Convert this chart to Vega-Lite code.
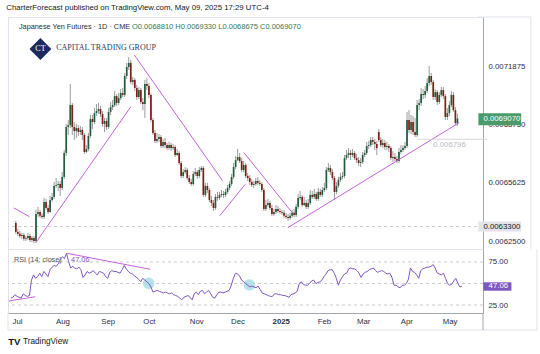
{
"$schema":"https://vega.github.io/schema/vega-lite/v6.json",
"background":"white",
"padding":{"left":6,"top":4,"right":8,"bottom":4},
"title":{"text":"CharterForecast published on TradingView.com, May 09, 2025 17:29 UTC-4","anchor":"start","frame":"bounds","font":"Liberation Sans, sans-serif","fontSize":7.8,"fontWeight":"normal","color":"#131722","offset":4},
"config":{"view":{"stroke":"#e0e3eb"},"text":{"font":"Liberation Sans, sans-serif","fontSize":7.8},"axis":{"labelFont":"Liberation Sans, sans-serif","labelFontSize":7.8,"labelColor":"#2a2e39","ticks":false,"grid":false,"domainColor":"#a3a6af","title":null}},
"spacing":0,
"bounds":"flush",
"datasets":{
"ohlc":[
{"i":0,"o":0.006349,"h":0.00636,"l":0.006291,"c":0.006301},
{"i":1,"o":0.006301,"h":0.006317,"l":0.00628,"c":0.006291},
{"i":2,"o":0.006291,"h":0.006307,"l":0.006269,"c":0.00628},
{"i":3,"o":0.00628,"h":0.006296,"l":0.006264,"c":0.006285},
{"i":4,"o":0.006285,"h":0.006296,"l":0.006253,"c":0.006264},
{"i":5,"o":0.006264,"h":0.00628,"l":0.006253,"c":0.006269},
{"i":6,"o":0.006269,"h":0.006296,"l":0.006258,"c":0.00628},
{"i":7,"o":0.00628,"h":0.006291,"l":0.006247,"c":0.006258},
{"i":8,"o":0.006258,"h":0.00628,"l":0.006247,"c":0.006269},
{"i":9,"o":0.006269,"h":0.00628,"l":0.006242,"c":0.006253},
{"i":10,"o":0.006253,"h":0.006419,"l":0.006242,"c":0.006397},
{"i":11,"o":0.006397,"h":0.006435,"l":0.006381,"c":0.006408},
{"i":12,"o":0.006408,"h":0.006419,"l":0.006376,"c":0.006387},
{"i":13,"o":0.006387,"h":0.006403,"l":0.006371,"c":0.006381},
{"i":14,"o":0.006381,"h":0.006483,"l":0.006371,"c":0.006461},
{"i":15,"o":0.006461,"h":0.006477,"l":0.006419,"c":0.006429},
{"i":16,"o":0.006429,"h":0.006445,"l":0.006397,"c":0.006408},
{"i":17,"o":0.006408,"h":0.006493,"l":0.006403,"c":0.006472},
{"i":18,"o":0.006472,"h":0.006509,"l":0.006461,"c":0.006488},
{"i":19,"o":0.006488,"h":0.006568,"l":0.006477,"c":0.006547},
{"i":20,"o":0.006547,"h":0.006589,"l":0.006536,"c":0.006552},
{"i":21,"o":0.006552,"h":0.006573,"l":0.00652,"c":0.006557},
{"i":22,"o":0.006557,"h":0.006573,"l":0.006493,"c":0.006536},
{"i":23,"o":0.006536,"h":0.006621,"l":0.006525,"c":0.006595},
{"i":24,"o":0.006595,"h":0.006739,"l":0.006584,"c":0.006723},
{"i":25,"o":0.006723,"h":0.006878,"l":0.006707,"c":0.006862},
{"i":26,"o":0.006862,"h":0.006899,"l":0.006819,"c":0.006872},
{"i":27,"o":0.006872,"h":0.007091,"l":0.006856,"c":0.006979},
{"i":28,"o":0.006979,"h":0.00699,"l":0.006819,"c":0.006862},
{"i":29,"o":0.006862,"h":0.006888,"l":0.006792,"c":0.00684},
{"i":30,"o":0.00684,"h":0.006878,"l":0.006803,"c":0.006856},
{"i":31,"o":0.006856,"h":0.006872,"l":0.006814,"c":0.006835},
{"i":32,"o":0.006835,"h":0.006867,"l":0.006819,"c":0.006846},
{"i":33,"o":0.006846,"h":0.006862,"l":0.006792,"c":0.006819},
{"i":34,"o":0.006819,"h":0.00683,"l":0.006717,"c":0.006728},
{"i":35,"o":0.006728,"h":0.006765,"l":0.006723,"c":0.006744},
{"i":36,"o":0.006744,"h":0.00683,"l":0.006733,"c":0.006814},
{"i":37,"o":0.006814,"h":0.006926,"l":0.006803,"c":0.006904},
{"i":38,"o":0.006904,"h":0.006926,"l":0.006851,"c":0.006888},
{"i":39,"o":0.006888,"h":0.006963,"l":0.006878,"c":0.006936},
{"i":40,"o":0.006936,"h":0.006984,"l":0.00692,"c":0.006947},
{"i":41,"o":0.006947,"h":0.00699,"l":0.006931,"c":0.006958},
{"i":42,"o":0.006958,"h":0.006974,"l":0.006915,"c":0.006931},
{"i":43,"o":0.006931,"h":0.006947,"l":0.006862,"c":0.006878},
{"i":44,"o":0.006878,"h":0.00691,"l":0.006835,"c":0.006894},
{"i":45,"o":0.006894,"h":0.00691,"l":0.006846,"c":0.006862},
{"i":46,"o":0.006862,"h":0.006963,"l":0.006851,"c":0.006942},
{"i":47,"o":0.006942,"h":0.006995,"l":0.006926,"c":0.006968},
{"i":48,"o":0.006968,"h":0.007006,"l":0.006952,"c":0.006979},
{"i":49,"o":0.006979,"h":0.007054,"l":0.006968,"c":0.007027},
{"i":50,"o":0.007027,"h":0.007038,"l":0.006974,"c":0.00699},
{"i":51,"o":0.00699,"h":0.007043,"l":0.006979,"c":0.007016},
{"i":52,"o":0.007016,"h":0.007064,"l":0.007006,"c":0.007043},
{"i":53,"o":0.007043,"h":0.00707,"l":0.007022,"c":0.007033},
{"i":54,"o":0.007033,"h":0.00715,"l":0.007022,"c":0.007134},
{"i":55,"o":0.007134,"h":0.007204,"l":0.007118,"c":0.007182},
{"i":56,"o":0.007182,"h":0.007236,"l":0.007166,"c":0.007204},
{"i":57,"o":0.007204,"h":0.00722,"l":0.007091,"c":0.007102},
{"i":58,"o":0.007102,"h":0.007129,"l":0.007086,"c":0.007113},
{"i":59,"o":0.007113,"h":0.007123,"l":0.007054,"c":0.00707},
{"i":60,"o":0.00707,"h":0.007086,"l":0.007006,"c":0.007022},
{"i":61,"o":0.007022,"h":0.007075,"l":0.007011,"c":0.007059},
{"i":62,"o":0.007059,"h":0.00707,"l":0.006984,"c":0.006995},
{"i":63,"o":0.006995,"h":0.007016,"l":0.006952,"c":0.006984},
{"i":64,"o":0.006984,"h":0.007113,"l":0.00691,"c":0.007091},
{"i":65,"o":0.007091,"h":0.007123,"l":0.007059,"c":0.007081},
{"i":66,"o":0.007081,"h":0.007097,"l":0.007016,"c":0.007033},
{"i":67,"o":0.007033,"h":0.007043,"l":0.006888,"c":0.006899},
{"i":68,"o":0.006899,"h":0.00691,"l":0.006819,"c":0.00683},
{"i":69,"o":0.00683,"h":0.006846,"l":0.006776,"c":0.006787},
{"i":70,"o":0.006787,"h":0.00683,"l":0.006776,"c":0.006798},
{"i":71,"o":0.006798,"h":0.006824,"l":0.006782,"c":0.006808},
{"i":72,"o":0.006808,"h":0.006819,"l":0.006749,"c":0.00676},
{"i":73,"o":0.00676,"h":0.006798,"l":0.006749,"c":0.006782},
{"i":74,"o":0.006782,"h":0.006803,"l":0.006749,"c":0.006765},
{"i":75,"o":0.006765,"h":0.006776,"l":0.006739,"c":0.006749},
{"i":76,"o":0.006749,"h":0.006782,"l":0.006739,"c":0.006765},
{"i":77,"o":0.006765,"h":0.006776,"l":0.006733,"c":0.006749},
{"i":78,"o":0.006749,"h":0.006771,"l":0.006739,"c":0.006755},
{"i":79,"o":0.006755,"h":0.006765,"l":0.006701,"c":0.006712},
{"i":80,"o":0.006712,"h":0.006744,"l":0.006707,"c":0.006723},
{"i":81,"o":0.006723,"h":0.006733,"l":0.006659,"c":0.006669},
{"i":82,"o":0.006669,"h":0.00668,"l":0.006589,"c":0.0066},
{"i":83,"o":0.0066,"h":0.006637,"l":0.006589,"c":0.006621},
{"i":84,"o":0.006621,"h":0.006648,"l":0.006611,"c":0.006632},
{"i":85,"o":0.006632,"h":0.006643,"l":0.006579,"c":0.006589},
{"i":86,"o":0.006589,"h":0.006605,"l":0.006557,"c":0.006568},
{"i":87,"o":0.006568,"h":0.006584,"l":0.006547,"c":0.006557},
{"i":88,"o":0.006557,"h":0.006627,"l":0.006547,"c":0.006611},
{"i":89,"o":0.006611,"h":0.006643,"l":0.0066,"c":0.006621},
{"i":90,"o":0.006621,"h":0.006632,"l":0.006584,"c":0.0066},
{"i":91,"o":0.0066,"h":0.006648,"l":0.006589,"c":0.006632},
{"i":92,"o":0.006632,"h":0.006653,"l":0.006621,"c":0.006643},
{"i":93,"o":0.006643,"h":0.006653,"l":0.006488,"c":0.006499},
{"i":94,"o":0.006499,"h":0.006563,"l":0.006488,"c":0.006547},
{"i":95,"o":0.006547,"h":0.006563,"l":0.006509,"c":0.006525},
{"i":96,"o":0.006525,"h":0.006536,"l":0.006461,"c":0.006472},
{"i":97,"o":0.006472,"h":0.006493,"l":0.00644,"c":0.006456},
{"i":98,"o":0.006456,"h":0.006472,"l":0.006413,"c":0.006429},
{"i":99,"o":0.006429,"h":0.006504,"l":0.006419,"c":0.006488},
{"i":100,"o":0.006488,"h":0.006515,"l":0.006467,"c":0.006483},
{"i":101,"o":0.006483,"h":0.006515,"l":0.006472,"c":0.006499},
{"i":102,"o":0.006499,"h":0.006525,"l":0.006488,"c":0.006504},
{"i":103,"o":0.006504,"h":0.00652,"l":0.006483,"c":0.006499},
{"i":104,"o":0.006499,"h":0.006531,"l":0.006488,"c":0.006515},
{"i":105,"o":0.006515,"h":0.006552,"l":0.006504,"c":0.006536},
{"i":106,"o":0.006536,"h":0.006573,"l":0.006525,"c":0.006557},
{"i":107,"o":0.006557,"h":0.006611,"l":0.006547,"c":0.006595},
{"i":108,"o":0.006595,"h":0.006669,"l":0.006584,"c":0.006648},
{"i":109,"o":0.006648,"h":0.006707,"l":0.006637,"c":0.006685},
{"i":110,"o":0.006685,"h":0.006744,"l":0.00668,"c":0.006701},
{"i":111,"o":0.006701,"h":0.006723,"l":0.006669,"c":0.00668},
{"i":112,"o":0.00668,"h":0.006696,"l":0.006621,"c":0.006632},
{"i":113,"o":0.006632,"h":0.00668,"l":0.006621,"c":0.006659},
{"i":114,"o":0.006659,"h":0.006669,"l":0.006589,"c":0.0066},
{"i":115,"o":0.0066,"h":0.006616,"l":0.006573,"c":0.006589},
{"i":116,"o":0.006589,"h":0.006605,"l":0.006552,"c":0.006568},
{"i":117,"o":0.006568,"h":0.006584,"l":0.006541,"c":0.006552},
{"i":118,"o":0.006552,"h":0.006573,"l":0.006536,"c":0.006557},
{"i":119,"o":0.006557,"h":0.006589,"l":0.006547,"c":0.006573},
{"i":120,"o":0.006573,"h":0.006595,"l":0.006552,"c":0.006563},
{"i":121,"o":0.006563,"h":0.006579,"l":0.006547,"c":0.006557},
{"i":122,"o":0.006557,"h":0.006568,"l":0.006515,"c":0.006525},
{"i":123,"o":0.006525,"h":0.006536,"l":0.006413,"c":0.006424},
{"i":124,"o":0.006424,"h":0.006472,"l":0.006413,"c":0.006445},
{"i":125,"o":0.006445,"h":0.006477,"l":0.006435,"c":0.006456},
{"i":126,"o":0.006456,"h":0.006467,"l":0.006419,"c":0.006429},
{"i":127,"o":0.006429,"h":0.006445,"l":0.006387,"c":0.006397},
{"i":128,"o":0.006397,"h":0.006424,"l":0.006387,"c":0.006408},
{"i":129,"o":0.006408,"h":0.006445,"l":0.006397,"c":0.006424},
{"i":130,"o":0.006424,"h":0.00644,"l":0.006403,"c":0.006413},
{"i":131,"o":0.006413,"h":0.006429,"l":0.006397,"c":0.006408},
{"i":132,"o":0.006408,"h":0.006419,"l":0.006392,"c":0.006403},
{"i":133,"o":0.006403,"h":0.006419,"l":0.006376,"c":0.006387},
{"i":134,"o":0.006387,"h":0.006403,"l":0.006371,"c":0.006381},
{"i":135,"o":0.006381,"h":0.006397,"l":0.00636,"c":0.006376},
{"i":136,"o":0.006376,"h":0.006403,"l":0.006365,"c":0.006387},
{"i":137,"o":0.006387,"h":0.006419,"l":0.006376,"c":0.006403},
{"i":138,"o":0.006403,"h":0.006424,"l":0.006381,"c":0.006392},
{"i":139,"o":0.006392,"h":0.006451,"l":0.006381,"c":0.006435},
{"i":140,"o":0.006435,"h":0.006504,"l":0.006424,"c":0.006483},
{"i":141,"o":0.006483,"h":0.00652,"l":0.006472,"c":0.006488},
{"i":142,"o":0.006488,"h":0.006499,"l":0.006435,"c":0.006445},
{"i":143,"o":0.006445,"h":0.006488,"l":0.00644,"c":0.006456},
{"i":144,"o":0.006456,"h":0.006472,"l":0.006424,"c":0.006435},
{"i":145,"o":0.006435,"h":0.006477,"l":0.006424,"c":0.006456},
{"i":146,"o":0.006456,"h":0.006525,"l":0.006445,"c":0.006499},
{"i":147,"o":0.006499,"h":0.00652,"l":0.006477,"c":0.006488},
{"i":148,"o":0.006488,"h":0.006531,"l":0.006477,"c":0.006504},
{"i":149,"o":0.006504,"h":0.006515,"l":0.006467,"c":0.006477},
{"i":150,"o":0.006477,"h":0.006536,"l":0.006467,"c":0.006515},
{"i":151,"o":0.006515,"h":0.006531,"l":0.006488,"c":0.006499},
{"i":152,"o":0.006499,"h":0.006541,"l":0.006488,"c":0.006525},
{"i":153,"o":0.006525,"h":0.006563,"l":0.006515,"c":0.006536},
{"i":154,"o":0.006536,"h":0.006648,"l":0.006525,"c":0.006632},
{"i":155,"o":0.006632,"h":0.006669,"l":0.006621,"c":0.006643},
{"i":156,"o":0.006643,"h":0.006659,"l":0.006605,"c":0.006621},
{"i":157,"o":0.006621,"h":0.006637,"l":0.006579,"c":0.006589},
{"i":158,"o":0.006589,"h":0.0066,"l":0.006472,"c":0.006515},
{"i":159,"o":0.006515,"h":0.006568,"l":0.006504,"c":0.006547},
{"i":160,"o":0.006547,"h":0.006595,"l":0.006536,"c":0.006579},
{"i":161,"o":0.006579,"h":0.006616,"l":0.006568,"c":0.006595},
{"i":162,"o":0.006595,"h":0.006621,"l":0.006584,"c":0.0066},
{"i":163,"o":0.0066,"h":0.006712,"l":0.006589,"c":0.006696},
{"i":164,"o":0.006696,"h":0.006739,"l":0.006685,"c":0.006712},
{"i":165,"o":0.006712,"h":0.006749,"l":0.006696,"c":0.006723},
{"i":166,"o":0.006723,"h":0.006739,"l":0.006685,"c":0.006712},
{"i":167,"o":0.006712,"h":0.006744,"l":0.006701,"c":0.006723},
{"i":168,"o":0.006723,"h":0.006733,"l":0.006685,"c":0.006696},
{"i":169,"o":0.006696,"h":0.006717,"l":0.006669,"c":0.006685},
{"i":170,"o":0.006685,"h":0.006701,"l":0.006653,"c":0.006669},
{"i":171,"o":0.006669,"h":0.006696,"l":0.006648,"c":0.006675},
{"i":172,"o":0.006675,"h":0.006728,"l":0.006664,"c":0.006712},
{"i":173,"o":0.006712,"h":0.006739,"l":0.006701,"c":0.006723},
{"i":174,"o":0.006723,"h":0.006782,"l":0.006712,"c":0.00676},
{"i":175,"o":0.00676,"h":0.006787,"l":0.006744,"c":0.006765},
{"i":176,"o":0.006765,"h":0.006808,"l":0.006755,"c":0.006792},
{"i":177,"o":0.006792,"h":0.006808,"l":0.006765,"c":0.006782},
{"i":178,"o":0.006782,"h":0.006798,"l":0.006739,"c":0.006771},
{"i":179,"o":0.006771,"h":0.006787,"l":0.006712,"c":0.006749},
{"i":180,"o":0.006835,"h":0.006851,"l":0.006782,"c":0.006792},
{"i":181,"o":0.006792,"h":0.006808,"l":0.006755,"c":0.006765},
{"i":182,"o":0.006765,"h":0.006798,"l":0.006749,"c":0.006776},
{"i":183,"o":0.006776,"h":0.006792,"l":0.006739,"c":0.006755},
{"i":184,"o":0.006755,"h":0.006782,"l":0.006739,"c":0.00676},
{"i":185,"o":0.00676,"h":0.006771,"l":0.006728,"c":0.006749},
{"i":186,"o":0.006749,"h":0.00676,"l":0.006685,"c":0.006696},
{"i":187,"o":0.006696,"h":0.006733,"l":0.006675,"c":0.006701},
{"i":188,"o":0.006701,"h":0.006723,"l":0.00668,"c":0.006691},
{"i":189,"o":0.006691,"h":0.006707,"l":0.006669,"c":0.00668},
{"i":190,"o":0.00668,"h":0.006749,"l":0.006669,"c":0.006728},
{"i":191,"o":0.006728,"h":0.006765,"l":0.006717,"c":0.006739},
{"i":192,"o":0.006739,"h":0.006765,"l":0.006728,"c":0.006749},
{"i":193,"o":0.006749,"h":0.006782,"l":0.006739,"c":0.00676},
{"i":194,"o":0.00676,"h":0.006942,"l":0.006749,"c":0.006899},
{"i":195,"o":0.006899,"h":0.006952,"l":0.00683,"c":0.006846},
{"i":196,"o":0.006846,"h":0.006926,"l":0.006824,"c":0.006888},
{"i":197,"o":0.006888,"h":0.00692,"l":0.006819,"c":0.006835},
{"i":198,"o":0.006835,"h":0.00691,"l":0.006808,"c":0.006819},
{"i":199,"o":0.006819,"h":0.007006,"l":0.006808,"c":0.006979},
{"i":200,"o":0.006979,"h":0.007011,"l":0.006952,"c":0.00699},
{"i":201,"o":0.00699,"h":0.00707,"l":0.006974,"c":0.007038},
{"i":202,"o":0.007038,"h":0.007064,"l":0.007011,"c":0.007033},
{"i":203,"o":0.007033,"h":0.007081,"l":0.007016,"c":0.007054},
{"i":204,"o":0.007054,"h":0.007123,"l":0.007043,"c":0.007097},
{"i":205,"o":0.007097,"h":0.007188,"l":0.007081,"c":0.007134},
{"i":206,"o":0.007134,"h":0.00715,"l":0.007086,"c":0.007102},
{"i":207,"o":0.007102,"h":0.007113,"l":0.007006,"c":0.007022},
{"i":208,"o":0.007022,"h":0.007064,"l":0.007006,"c":0.007048},
{"i":209,"o":0.007048,"h":0.007059,"l":0.006979,"c":0.006995},
{"i":210,"o":0.006995,"h":0.007048,"l":0.006984,"c":0.007033},
{"i":211,"o":0.007033,"h":0.007075,"l":0.007022,"c":0.007059},
{"i":212,"o":0.007059,"h":0.007075,"l":0.007011,"c":0.007027},
{"i":213,"o":0.007027,"h":0.007038,"l":0.006899,"c":0.006915},
{"i":214,"o":0.006915,"h":0.006963,"l":0.006899,"c":0.006936},
{"i":215,"o":0.006936,"h":0.007,"l":0.00692,"c":0.006979},
{"i":216,"o":0.006979,"h":0.007054,"l":0.006968,"c":0.007033},
{"i":217,"o":0.007033,"h":0.007048,"l":0.006942,"c":0.006952},
{"i":218,"o":0.006952,"h":0.006968,"l":0.006872,"c":0.006883},
{"i":219,"o":0.006881,"h":0.006933,"l":0.0068675,"c":0.006907}
],
"rsi":[
{"i":0,"r":33},{"i":1,"r":34},{"i":2,"r":37},{"i":3,"r":35},{"i":4,"r":34},{"i":5,"r":33},{"i":6,"r":38},{"i":7,"r":36},{"i":8,"r":35},{"i":9,"r":36},
{"i":10,"r":54},{"i":11,"r":60},{"i":12,"r":56},{"i":13,"r":58},{"i":14,"r":62},{"i":15,"r":58},{"i":16,"r":64},{"i":17,"r":61},{"i":18,"r":58},{"i":19,"r":66},
{"i":20,"r":69},{"i":21,"r":71},{"i":22,"r":70},{"i":23,"r":73},{"i":24,"r":78},{"i":25,"r":81},{"i":26,"r":79},{"i":27,"r":85},{"i":28,"r":76},{"i":29,"r":68},
{"i":30,"r":70},{"i":31,"r":68},{"i":32,"r":67},{"i":33,"r":69},{"i":34,"r":66},{"i":35,"r":57},{"i":36,"r":60},{"i":37,"r":64},{"i":38,"r":62},{"i":39,"r":63},
{"i":40,"r":65},{"i":41,"r":62},{"i":42,"r":60},{"i":43,"r":64},{"i":44,"r":63},{"i":45,"r":62},{"i":46,"r":58},{"i":47,"r":56},{"i":48,"r":63},{"i":49,"r":65},
{"i":50,"r":64},{"i":51,"r":64},{"i":52,"r":63},{"i":53,"r":62},{"i":54,"r":66},{"i":55,"r":71},{"i":56,"r":67},{"i":57,"r":64},{"i":58,"r":62},{"i":59,"r":61},
{"i":60,"r":59},{"i":61,"r":57},{"i":62,"r":55},{"i":63,"r":52},{"i":64,"r":56},{"i":65,"r":54},{"i":66,"r":52},{"i":67,"r":50},{"i":68,"r":46},{"i":69,"r":40},
{"i":70,"r":41},{"i":71,"r":42},{"i":72,"r":41},{"i":73,"r":40},{"i":74,"r":39},{"i":75,"r":40},{"i":76,"r":39},{"i":77,"r":38},{"i":78,"r":39},{"i":79,"r":37},
{"i":80,"r":36},{"i":81,"r":35},{"i":82,"r":33},{"i":83,"r":31},{"i":84,"r":34},{"i":85,"r":35},{"i":86,"r":36},{"i":87,"r":34},{"i":88,"r":31},{"i":89,"r":38},
{"i":90,"r":40},{"i":91,"r":37},{"i":92,"r":41},{"i":93,"r":42},{"i":94,"r":38},{"i":95,"r":40},{"i":96,"r":42},{"i":97,"r":38},{"i":98,"r":34},{"i":99,"r":33},
{"i":100,"r":37},{"i":101,"r":40},{"i":102,"r":40},{"i":103,"r":39},{"i":104,"r":40},{"i":105,"r":41},{"i":106,"r":42},{"i":107,"r":48},{"i":108,"r":56},{"i":109,"r":62},
{"i":110,"r":61},{"i":111,"r":59},{"i":112,"r":54},{"i":113,"r":52},{"i":114,"r":50},{"i":115,"r":48},{"i":116,"r":46},{"i":117,"r":47},{"i":118,"r":46},{"i":119,"r":45},
{"i":120,"r":47},{"i":121,"r":43},{"i":122,"r":39},{"i":123,"r":38},{"i":124,"r":37},{"i":125,"r":36},{"i":126,"r":35},{"i":127,"r":35},{"i":128,"r":38},{"i":129,"r":38},
{"i":130,"r":37},{"i":131,"r":37},{"i":132,"r":36},{"i":133,"r":36},{"i":134,"r":35},{"i":135,"r":34},{"i":136,"r":37},{"i":137,"r":38},{"i":138,"r":39},{"i":139,"r":41},
{"i":140,"r":50},{"i":141,"r":52},{"i":142,"r":49},{"i":143,"r":48},{"i":144,"r":48},{"i":145,"r":50},{"i":146,"r":53},{"i":147,"r":54},{"i":148,"r":50},{"i":149,"r":51},
{"i":150,"r":52},{"i":151,"r":54},{"i":152,"r":58},{"i":153,"r":61},{"i":154,"r":65},{"i":155,"r":66},{"i":156,"r":66},{"i":157,"r":62},{"i":158,"r":56},{"i":159,"r":48},
{"i":160,"r":54},{"i":161,"r":58},{"i":162,"r":61},{"i":163,"r":62},{"i":164,"r":67},{"i":165,"r":68},{"i":166,"r":67},{"i":167,"r":67},{"i":168,"r":65},{"i":169,"r":62},
{"i":170,"r":57},{"i":171,"r":61},{"i":172,"r":63},{"i":173,"r":64},{"i":174,"r":66},{"i":175,"r":67},{"i":176,"r":68},{"i":177,"r":65},{"i":178,"r":63},{"i":179,"r":64},
{"i":180,"r":65},{"i":181,"r":64},{"i":182,"r":62},{"i":183,"r":61},{"i":184,"r":62},{"i":185,"r":57},{"i":186,"r":48},{"i":187,"r":48},{"i":188,"r":46},{"i":189,"r":45},
{"i":190,"r":48},{"i":191,"r":48},{"i":192,"r":50},{"i":193,"r":55},{"i":194,"r":68},{"i":195,"r":64},{"i":196,"r":63},{"i":197,"r":60},{"i":198,"r":56},{"i":199,"r":65},
{"i":200,"r":67},{"i":201,"r":68},{"i":202,"r":69},{"i":203,"r":69},{"i":204,"r":70},{"i":205,"r":72},{"i":206,"r":68},{"i":207,"r":62},{"i":208,"r":61},{"i":209,"r":60},
{"i":210,"r":62},{"i":211,"r":56},{"i":212,"r":50},{"i":213,"r":48},{"i":214,"r":49},{"i":215,"r":53},{"i":216,"r":56},{"i":217,"r":50},{"i":218,"r":46},{"i":219,"r":47.06}
],
"tl":[
{"id":"a","i":10,"p":0.006245},{"id":"a","i":56.9,"p":0.006968},
{"id":"b","i":-1.0,"p":0.006429},{"id":"b","i":6.7,"p":0.006383},
{"id":"c","i":58.8,"p":0.007246},{"id":"c","i":102.5,"p":0.006575},
{"id":"d","i":101.2,"p":0.006388},{"id":"d","i":113.8,"p":0.006556},
{"id":"e","i":113.1,"p":0.006725},{"id":"e","i":137.3,"p":0.006401},
{"id":"f","i":134.9,"p":0.006324},{"id":"f","i":219.9,"p":0.006885}
],
"rtl":[
{"id":"a","i":27.3,"r":85.1},{"id":"a","i":67.7,"r":66.5},
{"id":"b","i":-1.0,"r":29.7},{"id":"b","i":11.9,"r":34.6}
],
"circ":[{"i":66.9,"r":50.2},{"i":115.8,"r":48.3}],
"lv":[{"v":75},{"v":50},{"v":25}]
},
"vconcat":[
{
"width":475,"height":232,
"layer":[
{"data":{"values":[{}]},"mark":{"type":"rule","color":"#c9cbd1","strokeDash":[3,3],"strokeWidth":1},
 "encoding":{"y":{"datum":0.00633,"type":"quantitative"}}},
{"data":{"name":"ohlc"},"mark":{"type":"rule","color":"#9b9b9b","strokeWidth":1},
 "encoding":{
  "x":{"field":"i","type":"quantitative","scale":{"domain":[-1.4,229.2],"nice":false,"zero":false},"axis":null},
  "y":{"field":"l","type":"quantitative","scale":{"domain":[0.0062099,0.0074493],"nice":false,"zero":false},
       "axis":{"orient":"right","values":[0.00625,0.0065625,0.006875,0.0071875],"format":".7f","labelPadding":5,"title":null}},
  "y2":{"field":"h"}}},
{"data":{"name":"ohlc"},"mark":{"type":"bar","size":1.7},
 "encoding":{
  "x":{"field":"i","type":"quantitative","axis":null},
  "y":{"field":"o","type":"quantitative"},
  "y2":{"field":"c"},
  "color":{"condition":{"test":"datum.c >= datum.o","value":"#1f5e3d"},"value":"#7e1f15"}}},
{"data":{"name":"tl"},"mark":{"type":"line","color":"#c462dc","strokeWidth":1},
 "encoding":{"x":{"field":"i","type":"quantitative","axis":null},"y":{"field":"p","type":"quantitative"},"detail":{"field":"id"}}},
{"data":{"values":[{}]},"mark":{"type":"rule","color":"#d4d6db","strokeWidth":1},
 "encoding":{"x":{"datum":199.5,"type":"quantitative","axis":null},"x2":{"datum":233.5},"y":{"datum":0.006796,"type":"quantitative"}}},
{"data":{"values":[{}]},"mark":{"type":"text","text":"0.006796","align":"left","baseline":"middle","color":"#b8bac0","fontSize":7.8},
 "encoding":{"x":{"datum":207,"type":"quantitative","axis":null},"y":{"datum":0.006765,"type":"quantitative"}}},
{"data":{"values":[{}]},"mark":{"type":"text","text":"Japanese Yen Futures · 1D · CME","align":"left","baseline":"middle","color":"#2a2e39","fontSize":7.3},
 "encoding":{"x":{"datum":1.55,"type":"quantitative","axis":null},"y":{"datum":0.0073959,"type":"quantitative"}}},
{"data":{"values":[{}]},"mark":{"type":"text","text":"O0.0068810  H0.0069330  L0.0068675  C0.0069070","align":"left","baseline":"middle","color":"#2f7a50","fontSize":7.5},
 "encoding":{"x":{"datum":57.6,"type":"quantitative","axis":null},"y":{"datum":0.0073959,"type":"quantitative"}}},
{"data":{"values":[{}]},"mark":{"type":"point","shape":"square","angle":45,"size":240,"filled":true,"opacity":1,"color":"#1d2b5a"},
 "encoding":{"x":{"datum":12.2,"type":"quantitative","axis":null},"y":{"datum":0.0072783,"type":"quantitative"}}},
{"data":{"values":[{}]},"mark":{"type":"text","text":"CT","align":"center","baseline":"middle","color":"white","font":"Liberation Serif","fontSize":8},
 "encoding":{"x":{"datum":12.2,"type":"quantitative","axis":null},"y":{"datum":0.0072783,"type":"quantitative"}}},
{"data":{"values":[{}]},"mark":{"type":"text","text":"CAPITAL TRADING GROUP","align":"left","baseline":"middle","color":"#2c3a66","font":"Liberation Serif","fontSize":8},
 "encoding":{"x":{"datum":20,"type":"quantitative","axis":null},"y":{"datum":0.0072837,"type":"quantitative"}}},
{"data":{"values":[{}]},"mark":{"type":"rect","color":"#4b9a6c"},
 "encoding":{"x":{"datum":229.4,"type":"quantitative","axis":null},"x2":{"datum":250.6},"y":{"datum":0.0069357,"type":"quantitative"},"y2":{"datum":0.0068716}}},
{"data":{"values":[{}]},"mark":{"type":"text","text":"0.0069070","align":"left","baseline":"middle","color":"white","fontSize":7.8},
 "encoding":{"x":{"datum":231.9,"type":"quantitative","axis":null},"y":{"datum":0.006904,"type":"quantitative"}}},
{"data":{"values":[{}]},"mark":{"type":"rect","color":"#e1e3e8"},
 "encoding":{"x":{"datum":229.4,"type":"quantitative","axis":null},"x2":{"datum":250.6},"y":{"datum":0.006357,"type":"quantitative"},"y2":{"datum":0.0063036}}},
{"data":{"values":[{}]},"mark":{"type":"text","text":"0.0063300","align":"left","baseline":"middle","color":"#131722","fontSize":7.8},
 "encoding":{"x":{"datum":231.9,"type":"quantitative","axis":null},"y":{"datum":0.00633,"type":"quantitative"}}},
{"data":{"values":[{}]},"mark":{"type":"rule","color":"#e0e3eb"},
 "encoding":{"x":{"datum":229.2,"type":"quantitative","axis":null},"x2":{"datum":255.4},"y":{"datum":0.0074493,"type":"quantitative"}}},
{"data":{"values":[{}]},"mark":{"type":"rule","color":"#e0e3eb"},
 "encoding":{"x":{"datum":255.4,"type":"quantitative","axis":null},"y":{"datum":0.0062099,"type":"quantitative"},"y2":{"datum":0.0074493}}}
]
},
{
"width":475,"height":64,
"layer":[
{"data":{"name":"lv"},"mark":{"type":"rule","color":"#c9cbd1","strokeDash":[3,3],"strokeWidth":1},
 "encoding":{"y":{"field":"v","type":"quantitative"}}},
{"data":{"name":"circ"},"mark":{"type":"point","filled":true,"size":135,"color":"#a9dde4","opacity":0.85},
 "encoding":{"x":{"field":"i","type":"quantitative"},"y":{"field":"r","type":"quantitative"}}},
{"data":{"name":"rsi"},"mark":{"type":"line","color":"#7e57c2","strokeWidth":1},
 "encoding":{
  "x":{"field":"i","type":"quantitative","scale":{"domain":[-1.4,229.2],"nice":false,"zero":false},
       "axis":{"orient":"bottom","values":[3,25,47,67,90,110,131,152,171,192,213],"labelPadding":4,"title":null,
       "labelExpr":"datum.value == 3 ? 'Jul' : datum.value == 25 ? 'Aug' : datum.value == 47 ? 'Sep' : datum.value == 67 ? 'Oct' : datum.value == 90 ? 'Nov' : datum.value == 110 ? 'Dec' : datum.value == 131 ? '2025' : datum.value == 152 ? 'Feb' : datum.value == 171 ? 'Mar' : datum.value == 192 ? 'Apr' : 'May'",
       "labelFontWeight":{"condition":{"test":"datum.value == 131","value":"bold"},"value":"normal"}}},
  "y":{"field":"r","type":"quantitative","scale":{"domain":[15.7,90.1],"nice":false,"zero":false},
       "axis":{"orient":"right","values":[25,75],"format":".2f","labelPadding":5,"title":null}}}},
{"data":{"name":"rtl"},"mark":{"type":"line","color":"#c462dc","strokeWidth":1},
 "encoding":{"x":{"field":"i","type":"quantitative"},"y":{"field":"r","type":"quantitative"},"detail":{"field":"id"}}},
{"data":{"values":[{}]},"mark":{"type":"text","text":"RSI (14; close)","align":"left","baseline":"middle","color":"#50535e","fontSize":7.2},
 "encoding":{"x":{"datum":1.55,"type":"quantitative"},"y":{"datum":77.7,"type":"quantitative"}}},
{"data":{"values":[{}]},"mark":{"type":"text","text":"47.06","align":"left","baseline":"middle","color":"#7e57c2","fontSize":7.4},
 "encoding":{"x":{"datum":29.2,"type":"quantitative"},"y":{"datum":77.7,"type":"quantitative"}}},
{"data":{"values":[{}]},"mark":{"type":"rect","color":"#7e57c2"},
 "encoding":{"x":{"datum":229.4,"type":"quantitative"},"x2":{"datum":243},"y":{"datum":51.4,"type":"quantitative"},"y2":{"datum":41.6}}},
{"data":{"values":[{}]},"mark":{"type":"text","text":"47.06","align":"left","baseline":"middle","color":"white","fontSize":7.8},
 "encoding":{"x":{"datum":231.9,"type":"quantitative"},"y":{"datum":47.06,"type":"quantitative"}}},
{"data":{"values":[{}]},"mark":{"type":"text","text":"TradingView","align":"left","baseline":"middle","color":"#131722","fontSize":8.2,"font":"Liberation Sans, sans-serif"},
 "encoding":{"x":{"datum":5.9,"type":"quantitative"},"y":{"datum":-18,"type":"quantitative"}}},
{"data":{"values":[{}]},"mark":{"type":"text","text":"TV","align":"left","baseline":"middle","color":"#131722","fontSize":9.5,"fontWeight":"bold","font":"Liberation Sans, sans-serif"},
 "encoding":{"x":{"datum":-1.3,"type":"quantitative"},"y":{"datum":-18,"type":"quantitative"}}},
{"data":{"values":[{}]},"mark":{"type":"rule","color":"#e0e3eb"},
 "encoding":{"x":{"datum":255.4,"type":"quantitative"},"y":{"datum":90.1,"type":"quantitative"},"y2":{"datum":-4.1}}},
{"data":{"values":[{}]},"mark":{"type":"rule","color":"#e0e3eb"},
 "encoding":{"x":{"datum":-1.4,"type":"quantitative"},"x2":{"datum":255.4},"y":{"datum":-4.1,"type":"quantitative"}}},
{"data":{"values":[{}]},"mark":{"type":"rule","color":"#e0e3eb"},
 "encoding":{"x":{"datum":-1.4,"type":"quantitative"},"y":{"datum":15.7,"type":"quantitative"},"y2":{"datum":-4.1}}},
{"data":{"values":[{}]},"mark":{"type":"rule","color":"#a3a6af"},
 "encoding":{"x":{"datum":229.2,"type":"quantitative"},"y":{"datum":15.7,"type":"quantitative"},"y2":{"datum":-4.1}}}
]
}
]
}
